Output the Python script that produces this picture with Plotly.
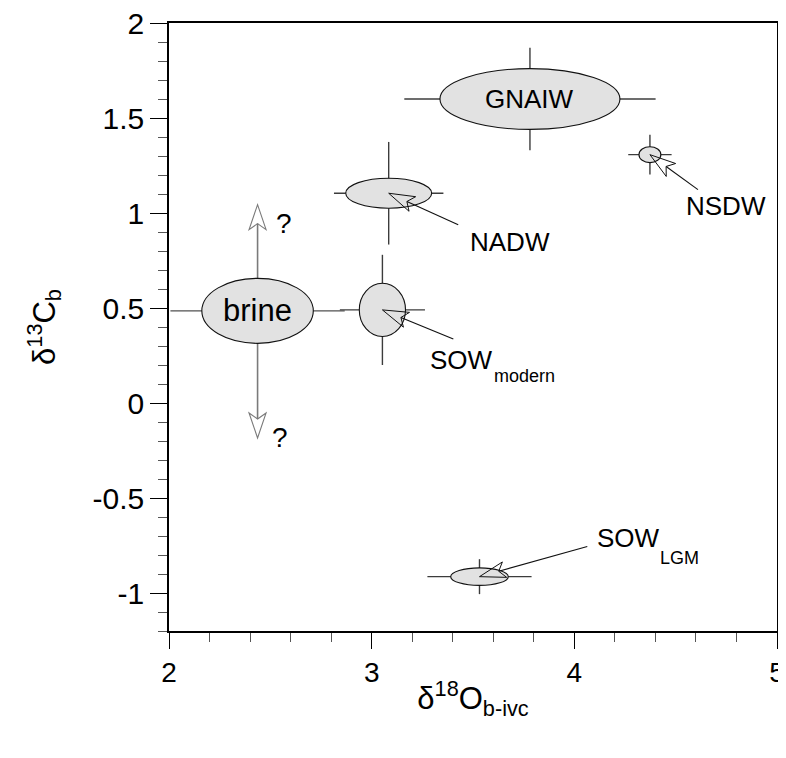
import plotly.graph_objects as go

# ---------------- data ----------------
names = ["GNAIW", "NADW", "NSDW", "brine", "SOW_modern", "SOW_LGM"]
x_center = [3.781, 3.084, 4.373, 2.437, 3.053, 3.532]
y_center = [1.600, 1.104, 1.307, 0.485, 0.490, -0.914]
ell_rx = [0.444, 0.212, 0.054, 0.275, 0.114, 0.142]
ell_ry = [0.160, 0.079, 0.042, 0.171, 0.140, 0.046]
x_err = [0.62, 0.27, 0.107, 0.43, 0.21, 0.257]
y_err = [0.27, 0.27, 0.105, 0.0, 0.29, 0.092]

# brine: open-ended vertical range (arrows with "?")
brine_up_tip = 1.044
brine_down_tip = -0.184
question_x = [2.567, 2.548]
question_y = [0.944, -0.182]

# label arrows: start (near label) -> tip (ellipse centre)
arrow_names = ["NADW", "SOW_modern", "NSDW", "SOW_LGM"]
arrow_x0 = [3.427, 3.403, 4.610, 4.064]
arrow_y0 = [0.938, 0.337, 1.123, -0.755]

# text labels
label_text = ["GNAIW", "brine", "NADW", "NSDW", "SOW", "modern", "SOW", "LGM"]
label_x = [3.781, 2.437, 3.682, 4.748, 3.442, 3.756, 4.266, 4.517]
label_y = [1.600, 0.485, 0.850, 1.038, 0.225, 0.141, -0.713, -0.818]
label_size = [26, 31, 26, 26, 26, 18, 26, 18]

x_ticks = [2, 3, 4, 5]
x_ticktext = ["2", "3", "4", "5"]
y_ticks = [-1, -0.5, 0, 0.5, 1, 1.5, 2]
y_ticktext = ["-1", "-0.5", "0", "0.5", "1", "1.5", "2"]

# ---------------- layout geometry ----------------
# the page body adds an 8 px margin, so the figure is made smaller to fit
W, H = 778, 742
ML, MR, MT, MB = 161, 9, 15, 119
X_RANGE = [2, 5]
Y_RANGE = [-1.2, 2]
pxx = (W - ML - MR) / (X_RANGE[1] - X_RANGE[0])
pxy = (H - MT - MB) / (Y_RANGE[1] - Y_RANGE[0])
FONT = "Liberation Sans"


def open_head(x0, y0, x1, y1, L=26, Wd=8, N=20):
    """open (hollow, notched) arrowhead at tip (x1,y1), pointing away from (x0,y0)"""
    dx = (x0 - x1) * pxx
    dy = (y0 - y1) * pxy
    d = (dx * dx + dy * dy) ** 0.5
    ux, uy = dx / d, dy / d
    qx, qy = -uy, ux

    def to_data(a, p):
        return x1 + (ux * a + qx * p) / pxx, y1 + (uy * a + qy * p) / pxy

    w1 = to_data(L, Wd)
    w2 = to_data(L, -Wd)
    n = to_data(N, 0)
    path = (f"M{w1[0]},{w1[1]} L{x1},{y1} L{w2[0]},{w2[1]} "
            f"L{n[0]},{n[1]} Z")
    return path, n


fig = go.Figure()

# error bars (drawn beneath ellipses)
dark_idx = [i for i, n in enumerate(names) if n != "brine"]
fig.add_trace(go.Scatter(
    x=[x_center[i] for i in dark_idx], y=[y_center[i] for i in dark_idx],
    mode="markers", marker=dict(size=1, opacity=0),
    error_x=dict(type="data", array=[x_err[i] for i in dark_idx],
                 color="#3c3c3c", thickness=1.4, width=0),
    error_y=dict(type="data", array=[y_err[i] for i in dark_idx],
                 color="#3c3c3c", thickness=1.4, width=0),
    hoverinfo="skip", showlegend=False))
bi = names.index("brine")
fig.add_trace(go.Scatter(
    x=[x_center[bi]], y=[y_center[bi]], mode="markers",
    marker=dict(size=1, opacity=0),
    error_x=dict(type="data", array=[x_err[bi]], color="#505050",
                 thickness=1.4, width=0),
    hoverinfo="skip", showlegend=False))
# invisible trace for the right-hand tick axis
fig.add_trace(go.Scatter(x=[X_RANGE[0]], y=[Y_RANGE[0]], yaxis="y2",
                         mode="markers", marker=dict(opacity=0),
                         hoverinfo="skip", showlegend=False))

shapes = []
# brine vertical arrows (grey) - drawn first so the ellipse covers the start
for tip in (brine_up_tip, brine_down_tip):
    path, n = open_head(x_center[bi], y_center[bi], x_center[bi], tip,
                        L=25, Wd=8.5, N=19)
    shapes.append(dict(type="line", xref="x", yref="y",
                       x0=x_center[bi], y0=y_center[bi], x1=n[0], y1=n[1],
                       line=dict(color="#7a7a7a", width=1.6), layer="above"))
    shapes.append(dict(type="path", xref="x", yref="y", path=path,
                       line=dict(color="#7a7a7a", width=1.1), layer="above"))

# ellipses
for cx, cy, rx, ry in zip(x_center, y_center, ell_rx, ell_ry):
    shapes.append(dict(type="circle", xref="x", yref="y",
                       x0=cx - rx, x1=cx + rx, y0=cy - ry, y1=cy + ry,
                       fillcolor="#e2e2e2", line=dict(color="#111", width=1.1),
                       layer="above"))

# label arrows
for nm, ax0, ay0 in zip(arrow_names, arrow_x0, arrow_y0):
    k = names.index(nm)
    tx, ty = x_center[k], y_center[k]
    path, n = open_head(ax0, ay0, tx, ty)
    shapes.append(dict(type="line", xref="x", yref="y",
                       x0=ax0, y0=ay0, x1=n[0], y1=n[1],
                       line=dict(color="#111", width=1.1), layer="above"))
    shapes.append(dict(type="path", xref="x", yref="y", path=path,
                       line=dict(color="#111", width=1.0), layer="above"))

annotations = []
for t, x, y, s in zip(label_text, label_x, label_y, label_size):
    annotations.append(dict(x=x, y=y, xref="x", yref="y", text=t,
                            showarrow=False, xanchor="center", yanchor="middle",
                            font=dict(family=FONT, size=s, color="black")))
for x, y in zip(question_x, question_y):
    annotations.append(dict(x=x, y=y, xref="x", yref="y", text="?",
                            showarrow=False, xanchor="center", yanchor="middle",
                            font=dict(family=FONT, size=28, color="black")))

fig.update_layout(
    width=W, height=H,
    margin=dict(l=ML, r=MR, t=MT, b=MB, autoexpand=False),
    paper_bgcolor="white", plot_bgcolor="white",
    showlegend=False,
    font=dict(family=FONT, color="black"),
    shapes=shapes, annotations=annotations,
    xaxis=dict(
        range=X_RANGE, showgrid=False, zeroline=False, automargin=False,
        showline=True, linecolor="black", linewidth=1.5, mirror=True,
        ticks="outside", ticklen=16, tickwidth=1.3, tickcolor="black",
        tickvals=x_ticks, ticktext=x_ticktext, ticklabeloverflow="allow",
        tickfont=dict(family=FONT, size=28),
        minor=dict(ticks="outside", tick0=2, dtick=0.2, ticklen=9,
                   tickwidth=1, tickcolor="#555"),
        title=dict(text="δ<sup>18</sup>O<sub>b-ivc</sub>",
                   font=dict(family=FONT, size=31), standoff=0),
    ),
    yaxis=dict(
        range=Y_RANGE, showgrid=False, zeroline=False, automargin=False,
        showline=True, linecolor="black", linewidth=1.5, mirror=True,
        ticks="outside", ticklen=17, tickwidth=1.3, tickcolor="black",
        tickvals=y_ticks, ticktext=y_ticktext, ticklabeloverflow="allow",
        tickfont=dict(family=FONT, size=30),
        minor=dict(ticks="outside", tick0=0, dtick=0.1, ticklen=9,
                   tickwidth=1, tickcolor="#555"),
        title=dict(text="δ<sup>13</sup>C<sub>b</sub>",
                   font=dict(family=FONT, size=31), standoff=28),
    ),
    yaxis2=dict(
        range=Y_RANGE, overlaying="y", side="right", showgrid=False,
        zeroline=False, showline=False, showticklabels=False, automargin=False,
        ticks="outside", ticklen=7, tickwidth=1, tickcolor="#444",
        tickmode="linear", tick0=0, dtick=0.1,
    ),
)

fig.write_html("out.html")
